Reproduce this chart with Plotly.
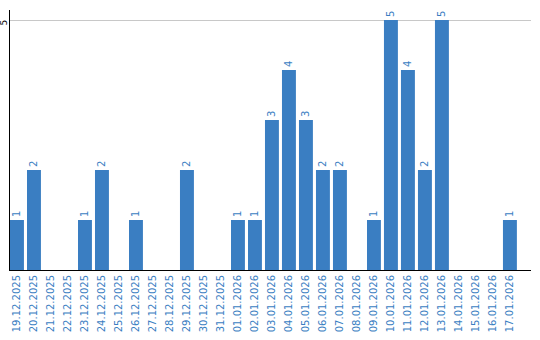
import plotly.graph_objects as go

dates = ["19.12.2025", "20.12.2025", "21.12.2025", "22.12.2025", "23.12.2025",
         "24.12.2025", "25.12.2025", "26.12.2025", "27.12.2025", "28.12.2025",
         "29.12.2025", "30.12.2025", "31.12.2025", "01.01.2026", "02.01.2026",
         "03.01.2026", "04.01.2026", "05.01.2026", "06.01.2026", "07.01.2026",
         "08.01.2026", "09.01.2026", "10.01.2026", "11.01.2026", "12.01.2026",
         "13.01.2026", "14.01.2026", "15.01.2026", "16.01.2026", "17.01.2026"]
counts = [1, 2, 0, 0, 1, 2, 0, 1, 0, 0, 2, 0, 0, 1, 1,
          3, 4, 3, 2, 2, 0, 1, 5, 4, 2, 5, 0, 0, 0, 1]

blue = "#3a7ec2"
labels = [str(v) if v else "" for v in counts]

fig = go.Figure(go.Bar(
    x=dates, y=counts, marker_color=blue, marker_line_width=0,
    text=labels, textposition="outside", textangle=-90,
    textfont=dict(color=blue, size=10, family="DejaVu Sans"),
    cliponaxis=False, hoverinfo="skip",
))

fig.update_layout(
    width=540, height=340,
    margin=dict(l=10, r=9, t=10, b=70),
    paper_bgcolor="white", plot_bgcolor="white",
    bargap=0.18, showlegend=False,
    font=dict(family="DejaVu Sans", size=10),
)
fig.update_xaxes(
    type="category", range=[-0.41, 30.24], tickangle=-90,
    tickfont=dict(color=blue, size=10, family="DejaVu Sans"),
    showline=True, linecolor="black", linewidth=1, showgrid=False,
    ticks="", zeroline=False, automargin=False,
)
fig.update_yaxes(
    range=[0, 5.2], tickvals=[5], ticktext=["5"], tickangle=-90,
    tickfont=dict(color="black", size=9, family="DejaVu Sans"),
    showline=True, linecolor="black", linewidth=1,
    showgrid=True, gridcolor="#c8c8c8", gridwidth=1,
    zeroline=False, ticks="", automargin=False,
    ticklabelstandoff=-2, ticklabelshift=4,
)

fig.write_html("out.html")
